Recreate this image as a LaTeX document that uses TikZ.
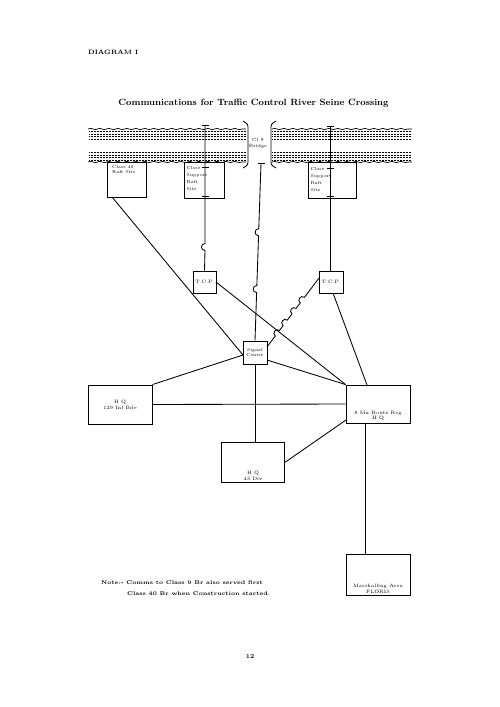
\documentclass[tikz,border=0pt]{standalone}
\usetikzlibrary{calc,decorations.pathmorphing}
\begin{document}
\begin{tikzpicture}[x=1pt,y=-1pt,
  box/.style={draw,line width=0.9pt,inner sep=0pt,anchor=center},
  wire/.style={line width=0.85pt},
  tick/.style={line width=0.9pt},
  bank/.style={line width=0.7pt,decorate,decoration={snake,amplitude=0.6pt,segment length=9pt}},
  dots/.style={line width=0.8pt,dash pattern=on 0.7pt off 0.8pt},
  tiny/.style={font=\fontsize{4.3}{5}\selectfont,inner sep=0pt,align=left},
  small/.style={font=\fontsize{4.8}{5.8}\selectfont,inner sep=0pt,align=center},
  bumpL/.style={out=90,in=90,relative,looseness=1.7},
  bumpR/.style={out=-90,in=-90,relative,looseness=1.7},
]
\useasboundingbox (0,0) rectangle (500,707);

% headings
\node[anchor=west,inner sep=0pt,font=\fontsize{6.3}{8}\selectfont\bfseries] (diag) at (88,52) {DIAGRAM I};
\node[inner sep=0pt,font=\fontsize{9.1}{10}\selectfont\bfseries] (title) at (253.5,103) {Communications for Traffic Control River Seine Crossing};

% river
\draw[bank] (88,129) -- (246,129);
\draw[bank] (272,129) -- (412,129);
\draw[bank] (88,162) -- (246,162);
\draw[bank] (272,162) -- (412,162);
\foreach \yy in {131.5,134,136.5,139,152.5,155,157.5,160} {
  \draw[dots] (89,\yy) -- (246,\yy);
  \draw[dots] (272,\yy) -- (411,\yy);
}
% bridge gap brackets
\draw[line width=0.8pt] (243,121) .. controls (248,124) .. (248,130) -- (248,159) .. controls (248,165) .. (243,168);
\draw[line width=0.8pt] (276,121) .. controls (271,124) .. (271,130) -- (271,159) .. controls (271,165) .. (276,168);
\node[small,font=\fontsize{4.6}{6}\selectfont] (br) at (258,143) {Cl 9\\Bridge};

% boxes
\node[box,minimum width=39pt,minimum height=35pt] (c40) at (126.5,179.5) {};
\node[tiny,anchor=north west] (c40t) at (112,165) {Class 40\\Raft Site};
\node[box,minimum width=40pt,minimum height=36pt] (csl) at (204,180) {};
\node[tiny,anchor=north west,font=\fontsize{4.3}{6.8}\selectfont] (cslt) at (186.5,166.5) {Close\\Support\\Raft\\Site};
\node[box,minimum width=48pt,minimum height=36pt] (csr) at (332,180) {};
\node[tiny,anchor=north west,font=\fontsize{4.3}{6.8}\selectfont] (csrt) at (310.5,167.5) {Close\\Support\\Raft\\Site};

\node[box,minimum width=23pt,minimum height=22pt,small] (tcpl) at (204.5,282) {T.C.P.};
\node[box,minimum width=24pt,minimum height=22pt,small] (tcpr) at (331,282) {T.C.P.};
\node[box,minimum width=24pt,minimum height=23pt,small,font=\fontsize{4.3}{5.6}\selectfont] (sig) at (255,352.5) {Signal\\Centre};

\node[box,minimum width=64pt,minimum height=39pt,small] (hq129) at (120,404.5) {H Q\\129 Inf Bde};
\node[box,minimum width=64pt,minimum height=38pt] (hqr) at (378,404) {};
\node[small,anchor=south] (hqrt) at (378,421) {8 Mx Route Reg\\H Q};
\node[box,minimum width=63pt,minimum height=40pt] (hq43) at (252.5,462) {};
\node[small,anchor=south] (hq43t) at (253,480.5) {H Q\\43 Div};
\node[box,minimum width=64pt,minimum height=41pt] (mar) at (378,574.5) {};
\node[small,anchor=south] (mart) at (378,594) {Marshalling Area\\FLORIS};

% tick coordinates
\coordinate (lt1) at (205,125);
\coordinate (lt2) at (205,167);
\coordinate (lt3) at (205,196);
\coordinate (rt1) at (330,126);
\coordinate (rt2) at (330,168);
\coordinate (rt3) at (330,196);
\coordinate (bt) at (261,163);
\foreach \c in {lt1,lt2,lt3,rt1,rt2,rt3,bt} {
  \draw[tick] ($(\c)+(-3.5,0)$) -- ($(\c)+(3.5,0)$);
}

% vertical feeds
\draw[wire] (lt1) -- (205,243.5) to[bumpR] (205,250.5) -- (tcpl.north);
\draw[wire] (rt1) -- (tcpr.north -| rt1);
\coordinate (sigtop) at (sig.north);
\draw[wire] (bt) -- ($(bt)!0.37!(sigtop)$) to[bumpR] ($(bt)!0.41!(sigtop)$)
   -- ($(bt)!0.69!(sigtop)$) to[bumpR] ($(bt)!0.73!(sigtop)$) -- (sigtop);

% diagonal links
\coordinate (c40b) at (112,197);
\coordinate (sigw) at (243,355);
\draw[wire] (c40b) -- (sigw);
\draw[wire] (sigw) -- (hq129.north east);
\coordinate (tcple) at (216,282);
\draw[wire] (tcple) -- (hqr.north west);
\coordinate (sige) at (267,347);
\coordinate (tcprw) at (319,278);
\draw[wire] (sige) -- ($(sige)!0.16!(tcprw)$) to[bumpL] ($(sige)!0.24!(tcprw)$)
  -- ($(sige)!0.31!(tcprw)$) to[bumpL] ($(sige)!0.39!(tcprw)$)
  -- ($(sige)!0.48!(tcprw)$) to[bumpL] ($(sige)!0.56!(tcprw)$)
  -- ($(sige)!0.64!(tcprw)$) to[bumpL] ($(sige)!0.72!(tcprw)$) -- (tcprw);
\coordinate (sigse) at (267,360);
\draw[wire] (sigse) -- (hqr.north west);
\coordinate (tcprb) at (333,293);
\coordinate (hqrn) at (367,385);
\draw[wire] (tcprb) -- (hqrn);
\draw[wire] (sig.south) -- (sig.south |- hq43.north);
\draw[wire] (hq129.east) -- (hqr.west);
\coordinate (hq43e) at (284,463);
\coordinate (hqrsw) at (346,420);
\draw[wire] (hq43e) -- (hqrsw);
\coordinate (hqrs) at (365,423);
\draw[wire] (hqrs) -- (hqrs |- mar.north);

% note
\node[anchor=west,inner sep=0pt,font=\fontsize{5.4}{7}\selectfont\bfseries] (note1) at (101,583) {Note:- Comms to Class 9 Br also served first};
\node[anchor=west,inner sep=0pt,font=\fontsize{5.4}{7}\selectfont\bfseries] (note2) at (127,594) {Class 40 Br when Construction started.};
\node[inner sep=0pt,font=\fontsize{6}{7}\selectfont\bfseries] (pg) at (250,657) {12};
\end{tikzpicture}
\end{document}
